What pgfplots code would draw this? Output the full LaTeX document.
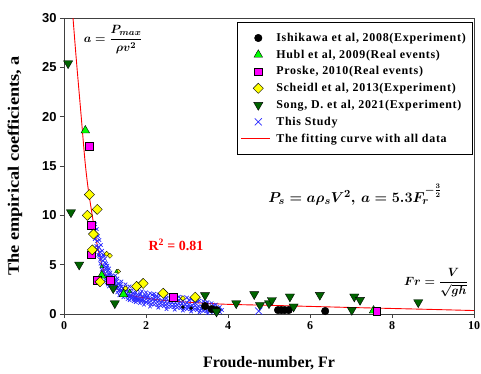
\documentclass[border=0pt]{standalone}
\usepackage{fontspec}
\setmainfont{Liberation Serif}
\newfontfamily\arialfont{Liberation Sans}
\newfontfamily\legfont[LetterSpace=6]{Liberation Serif}
\usepackage{amsmath}
\usepackage{graphicx}
\usepackage{pgfplots}
\pgfplotsset{compat=1.18}
\pgfplotsset{
  longline legend/.style={legend image code/.code={\path (-0.3cm,0cm) (0.85cm,0cm); \draw[##1] (-0.3cm,0cm) -- (0.72cm,0cm);}},
  markleg/.style={legend image code/.code={\path (-0.3cm,0cm) (0.85cm,0cm); \draw[##1] plot coordinates {(0.3cm,0cm)};}},
}
\definecolor{limeg}{HTML}{00FF00}
\definecolor{magen}{HTML}{FF00FF}
\definecolor{yel}{HTML}{FFFF00}
\definecolor{dgreen}{HTML}{006400}
\definecolor{xblue}{HTML}{2A2AFF}
\definecolor{fitred}{HTML}{FF0000}
\begin{document}
\begin{tikzpicture}
\begin{axis}[
  scale only axis, width=410bp, height=296bp,
  xmin=0, xmax=10, ymin=0, ymax=30,
  xtick={0,2,4,6,8,10}, ytick={0,5,10,15,20,25,30},
  tick align=outside, xtick pos=left, ytick pos=left,
  major tick length=4bp,
  axis line style={line width=0.9pt, black!75},
  every tick/.style={black!75, line width=0.8pt},
  /pgf/number format/assume math mode=true,
  xticklabel style={font=\bfseries\fontsize{12}{14}\selectfont, inner xsep=0.5pt},
  yticklabel style={font=\arialfont\bfseries\fontsize{13}{15}\selectfont},
  xlabel={Froude-number, Fr},
  ylabel={\scalebox{1.15}[1]{The empirical coefficients, a}},
  xlabel style={font=\bfseries\fontsize{16}{18}\selectfont, at={(axis description cs:0.5,0)}, anchor=center, yshift=-49bp, inner ysep=1pt},
  ylabel style={font=\bfseries\fontsize{16}{18}\selectfont, at={(axis description cs:0,0.5)}, anchor=center, yshift=49bp, inner ysep=1pt},
  legend style={at={(0.995,0.985)}, anchor=north east, draw=black,
    font=\legfont\bfseries\fontsize{12}{14}\selectfont, row sep=3pt,
    inner xsep=4pt, inner ysep=8.5pt},
  legend cell align=left,
  clip=true,
]
% This Study band (no legend)
\addplot[only marks, mark=x, mark size=2.5pt, color=xblue, mark options={line width=0.7pt}, forget plot] coordinates {
(0.72,9.0)(0.74,8.4)(0.76,9.1)(0.78,8.0)(0.8,8.6)(0.81,7.4)(0.83,7.9)(0.85,6.8)(0.86,7.5)(0.88,6.3)
(0.9,7.0)(0.91,5.8)(0.93,6.4)(0.95,5.4)(0.96,6.0)(0.98,4.9)(1.0,5.6)(1.01,4.6)(1.03,5.1)(1.05,4.3)
(1.06,4.9)(1.08,4.0)(1.1,4.6)(1.11,3.7)(1.13,4.2)(1.15,3.5)(1.17,3.9)(1.19,3.2)(1.2,3.7)(0.88,5.5)
(0.93,4.8)(0.97,4.3)(1.02,3.9)(1.07,3.5)(0.84,6.0)(1.12,3.1)
(1.22,3.0)(1.24,3.5)(1.26,2.8)(1.28,3.3)(1.3,2.6)(1.32,3.1)(1.34,2.4)(1.36,2.9)(1.38,2.3)(1.4,2.8)
(1.42,2.2)(1.44,2.6)(1.46,2.0)(1.48,2.5)(1.5,1.9)(1.53,2.4)(1.55,1.8)(1.58,2.3)(1.6,1.7)(1.63,2.2)
(1.65,1.6)(1.68,2.1)(1.7,1.5)(1.73,2.0)(1.76,1.45)(1.79,1.95)(1.82,1.4)(1.85,1.9)(1.88,1.3)(1.91,1.8)
(1.94,1.25)(1.97,1.7)(2.0,1.2)(1.3,2.2)(1.45,1.7)(1.6,1.4)(1.75,1.2)
(2.03,1.65)(2.06,1.1)(2.1,1.55)(2.13,1.0)(2.17,1.5)(2.2,0.95)(2.24,1.45)(2.28,0.9)(2.32,1.4)(2.36,0.85)
(2.4,1.35)(2.44,0.8)(2.48,1.3)(2.52,0.75)(2.56,1.25)(2.6,0.7)(2.64,1.2)(2.68,0.7)(2.72,1.15)(2.76,0.65)
(2.8,1.1)(2.84,0.6)(2.88,1.05)(2.92,0.55)(2.96,1.0)(3.0,0.5)(2.2,1.8)(2.5,1.6)(2.8,1.4)
(3.04,0.95)(3.08,0.5)(3.12,0.9)(3.16,0.45)(3.2,0.85)(3.24,0.4)(3.28,0.8)(3.32,0.35)(3.36,0.75)(3.4,0.3)
(3.44,0.7)(3.48,0.3)(3.52,0.65)(3.56,0.25)(3.6,0.6)(3.64,0.2)(3.68,0.55)(3.72,0.15)(3.76,0.45)(3.8,0.2)
(0.75,7.6)(0.79,6.9)(0.82,6.5)(0.86,5.9)(0.89,5.1)(0.92,4.5)(0.95,4.1)(0.98,3.8)(1.01,3.5)(1.04,3.2)
(1.07,3.0)(1.1,2.8)(0.97,5.9)(1.0,5.2)(1.04,4.7)(1.08,4.4)(1.12,4.0)(1.16,3.7)(1.2,3.4)(1.24,3.2)
(1.28,2.9)(1.14,2.9)(1.18,2.7)
(1.32,2.7)(1.36,2.55)(1.4,2.4)(1.44,2.3)(1.48,2.15)(1.52,2.05)(1.56,1.95)(1.6,1.85)(1.64,1.8)(1.68,1.7)
(1.72,1.65)(1.76,1.6)(1.8,1.55)(1.84,1.5)(1.88,1.45)(1.92,1.4)(1.96,1.35)(1.38,3.0)(1.5,2.7)(1.62,2.4)
(1.74,2.2)(1.86,2.05)(1.98,1.9)(1.35,1.9)(1.55,1.5)(1.7,1.3)(1.85,1.1)(1.95,0.95)
(2.05,1.35)(2.12,1.3)(2.2,1.25)(2.28,1.2)(2.36,1.1)(2.44,1.05)(2.52,1.0)(2.6,0.95)(2.68,0.95)(2.76,0.9)
(2.84,0.85)(2.92,0.8)(3.0,0.75)(2.1,0.75)(2.3,0.65)(2.5,0.5)(2.7,0.45)(2.9,0.35)(2.3,1.7)(2.6,1.5)
(2.9,1.3)(2.15,1.95)
(3.05,0.7)(3.15,0.65)(3.25,0.6)(3.35,0.55)(3.45,0.5)(3.55,0.45)(3.65,0.4)(3.75,0.3)(3.1,0.25)(3.3,0.15)
(3.5,0.1)(3.2,1.1)(3.4,1.0)(3.0,1.15)
(2.0,2.2)(2.1,2.1)(2.2,2.05)(2.3,2.0)(2.4,1.95)(2.5,1.9)(2.6,1.85)(2.7,1.8)(2.8,1.75)(2.9,1.7)
(3.0,1.65)(3.1,1.5)(3.2,1.45)(3.3,1.35)(3.4,1.3)(3.5,1.2)(3.6,1.1)(3.7,0.95)(2.05,1.85)(2.25,1.75)
(2.45,1.65)(2.65,1.6)(2.85,1.55)(3.05,1.4)(3.25,1.25)(3.45,1.15)(3.65,0.85)(3.8,0.7)(3.85,0.4)(1.5,3.0)
(1.6,2.8)(1.7,2.6)(1.8,2.45)(1.9,2.3)(1.4,3.3)(1.3,3.6)(1.25,3.9)
};
% small markers inside the band (no legend)
\addplot[only marks, mark=square*, mark size=1.8pt, mark options={rotate=45, fill=yel, draw=black, line width=0.3pt}, forget plot] coordinates {
(1.04,6.1)(1.12,5.9)(1.32,4.3)(2.7,1.8)(2.9,1.6)(1.5,2.6)
};
\addplot[only marks, mark=triangle*, mark size=2.2pt, mark options={fill=limeg, draw=black, line width=0.3pt}, forget plot] coordinates {
(0.92,4.8)(1.28,4.3)(1.6,2.3)
};
\addplot[only marks, mark=*, mark size=1.6pt, mark options={fill=black, draw=black}, forget plot] coordinates {
(2.9,0.7)(3.1,0.6)
};
% Ishikawa
\addplot[only marks, markleg, mark=*, mark size=3.8pt, mark options={fill=black, draw=black, line width=0.4pt}] coordinates {
(3.44,0.8)(3.6,0.5)(3.72,0.4)(5.22,0.4)(5.3,0.4)(5.38,0.4)(5.48,0.4)(6.37,0.3)
};
\addlegendentry{Ishikawa et al, 2008(Experiment)}
% Hubl
\addplot[only marks, markleg, mark=triangle*, mark size=5pt, mark options={fill=limeg, draw=black, line width=0.4pt}] coordinates {
(0.52,18.6)(0.92,3.9)(1.45,2.0)(7.55,0.35)
};
\addlegendentry{Hubl et al, 2009(Real events)}
% Proske
\addplot[only marks, markleg, mark=square*, mark size=3.8pt, mark options={fill=magen, draw=black, line width=0.4pt}] coordinates {
(0.61,17.0)(0.67,9.0)(0.67,6.0)(0.81,3.45)(1.12,3.45)(2.67,1.7)(7.63,0.3)
};
\addlegendentry{Proske, 2010(Real events)}
% Scheidl
\addplot[only marks, markleg, mark=square*, mark size=3.6pt, mark options={rotate=45, fill=yel, draw=black, line width=0.4pt}] coordinates {
(0.62,12.1)(0.81,10.6)(0.57,10.0)(0.72,8.1)(0.69,6.5)(0.88,3.27)(1.93,3.1)(1.77,2.8)(2.42,2.1)(3.2,1.7)
};
\addlegendentry{Scheidl et al, 2013(Experiment)}
% Song
\addplot[only marks, markleg, mark=triangle*, mark size=5.3pt, mark options={rotate=180, fill=dgreen, draw=black, line width=0.4pt}] coordinates {
(0.1,25.4)(0.17,10.3)(0.37,5.0)(1.2,2.6)(1.24,1.08)(3.44,1.9)(3.72,0.24)(4.2,1.08)(4.64,2.0)(4.78,0.9)
(5.0,1.08)(5.07,1.4)(5.51,1.76)(5.6,0.75)(6.24,1.93)(7.02,0.4)(7.08,1.76)(7.22,1.42)(8.64,1.18)
};
\addlegendentry{Song, D. et al, 2021(Experiment)}
% This Study (lone point, carries legend)
\addplot[only marks, markleg, mark=x, mark size=5pt, color=xblue, mark options={line width=0.7pt}] coordinates {
(4.75,0.3)
};
\addlegendentry{This Study}
% Fit
\addplot[fitred, line width=0.9pt, smooth, no markers, longline legend] coordinates {
(0.22,30)(0.3,25.8)(0.42,20)(0.51,15.6)(0.58,13)(0.67,10.5)(0.8,7.2)(0.96,4.5)(1.12,3.3)(1.32,2.45)
(1.55,2.0)(1.77,1.76)(2.02,1.6)(2.34,1.42)(2.83,1.25)(3.4,1.1)(4.0,0.98)(5,0.88)(6,0.77)(7,0.66)
(8,0.56)(9,0.46)(10,0.35)
};
\addlegendentry{The fitting curve with all data}
\node[font=\boldmath\fontsize{13}{15}\selectfont] at (axis cs:1.2,27.8) {$a=\dfrac{P_{max}}{\rho v^2}$};
\node[font=\boldmath\fontsize{15}{18}\selectfont] at (axis cs:7.1,12.1) {$P_s=a\rho_sV^2,\,a=5.3F_r^{-\frac{3}{2}}$};
\node[font=\boldmath\fontsize{12}{14}\selectfont] at (axis cs:9.07,3.2) {$Fr=\dfrac{V}{\sqrt{gh}}$};
\node[font=\bfseries\fontsize{14}{16}\selectfont, text=fitred] at (axis cs:2.73,7.0) {R\textsuperscript{2} = 0.81};
\end{axis}
\path (current axis.south west) ++(-64bp,-60bp) rectangle ([xshift=7bp,yshift=18bp]current axis.north east);
\end{tikzpicture}
\end{document}
